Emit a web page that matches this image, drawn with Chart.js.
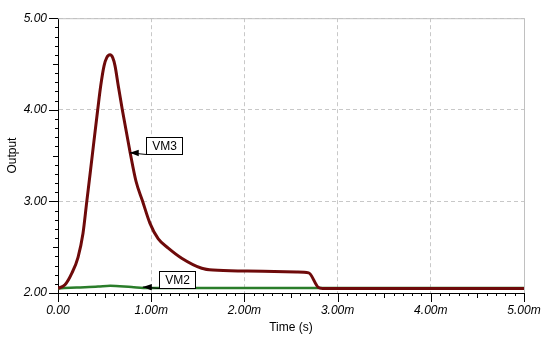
<!DOCTYPE html>
<html>
<head>
<meta charset="utf-8">
<script src="https://cdn.jsdelivr.net/npm/chart.js@4.4.1/dist/chart.umd.min.js"></script>
<style>
  body { margin: 0; background: #fff; }
  #wrap { width: 554px; height: 348px; }
</style>
</head>
<body>
<div id="wrap"><canvas id="chart" width="554" height="348"></canvas></div>
<script>
// time in ms, output in V
const vm3Time = [0.00, 0.075, 0.15, 0.215, 0.268, 0.309, 0.349, 0.386, 0.426, 0.458, 0.494, 0.523, 0.558,
                 0.587, 0.612, 0.647, 0.690, 0.773, 0.837, 0.905, 0.987, 1.076, 1.183, 1.327, 1.542,
                 1.663, 2.03, 2.56, 2.69, 2.795, 2.84, 5.00];
const vm3Volt = [2.05, 2.09, 2.22, 2.39, 2.65, 3.00, 3.34, 3.66, 4.00, 4.26, 4.48, 4.57, 4.60,
                 4.57, 4.48, 4.26, 4.00, 3.54, 3.22, 3.01, 2.76, 2.59, 2.49, 2.38, 2.27,
                 2.25, 2.24, 2.23, 2.22, 2.06, 2.05, 2.05];
const vm2Time = [0.00, 0.20, 0.43, 0.56, 0.79, 0.97, 2.00, 3.00, 5.00];
const vm2Volt = [2.05, 2.06, 2.07, 2.08, 2.065, 2.055, 2.055, 2.055, 2.055];

const xTicks = [0, 1, 2, 3, 4, 5];
const yTicks = [2, 3, 4, 5];

const markerNames = ['VM3', 'VM2'];
const markerTime = [0.77, 0.91];
const markerVolt = [3.53, 2.065];

Chart.defaults.font.family = '"Liberation Sans", Arial, sans-serif';
Chart.defaults.color = '#000';

const tickFont = { family: '"Liberation Sans", Arial, sans-serif', size: 12, style: 'italic' };

function pts(xs, ys) {
  return xs.map((x, i) => ({ x: x, y: ys[i] }));
}

// minor ticks, solid frame on top/right, boxed series labels
const decor = {
  id: 'decor',
  afterDraw(chart) {
    const ctx = chart.ctx;
    const area = chart.chartArea;
    const xs = chart.scales.x;
    const ys = chart.scales.y;
    ctx.save();
    ctx.strokeStyle = '#c0c0c0';
    ctx.lineWidth = 1;
    ctx.beginPath();
    ctx.moveTo(area.left, area.top + 0.5);
    ctx.lineTo(area.right + 0.5, area.top + 0.5);
    ctx.lineTo(area.right + 0.5, area.bottom);
    ctx.stroke();

    ctx.strokeStyle = '#000';
    ctx.beginPath();
    for (let i = 0; i <= 50; i++) {
      const v = xTicks[0] + i * 0.1;
      const px = Math.round(xs.getPixelForValue(v)) + 0.5;
      const len = i % 10 === 0 ? 9 : (i % 5 === 0 ? 5 : 3);
      ctx.moveTo(px, area.bottom);
      ctx.lineTo(px, area.bottom + len);
    }
    for (let i = 0; i <= 30; i++) {
      const v = yTicks[0] + i * 0.1;
      const py = Math.round(ys.getPixelForValue(v)) + 0.5;
      const len = i % 10 === 0 ? 9 : (i % 5 === 0 ? 5 : 3);
      ctx.moveTo(area.left, py);
      ctx.lineTo(area.left - len, py);
    }
    ctx.stroke();

    ctx.font = '12px "Liberation Sans", Arial, sans-serif';
    ctx.textAlign = 'center';
    ctx.textBaseline = 'middle';
    markerNames.forEach((name, i) => {
      const tx = xs.getPixelForValue(markerTime[i]);
      const ty = ys.getPixelForValue(markerVolt[i]);
      const bx = Math.round(tx + 16) + 0.5;
      const by = Math.round(ty + 1) + 0.5;
      const w = 36, h = 17;
      ctx.fillStyle = '#fff';
      ctx.fillRect(bx, by - h, w, h);
      ctx.strokeStyle = '#000';
      ctx.lineWidth = 1;
      ctx.strokeRect(bx, by - h, w, h);
      ctx.fillStyle = '#000';
      ctx.fillText(name, bx + w / 2, by - h / 2 + 0.5);
      ctx.beginPath();
      ctx.moveTo(bx, by);
      ctx.lineTo(tx, ty);
      ctx.stroke();
      ctx.beginPath();
      ctx.moveTo(tx, ty);
      ctx.lineTo(tx + 9, ty - 3);
      ctx.lineTo(tx + 9, ty + 3.5);
      ctx.closePath();
      ctx.fill();
    });
    ctx.restore();
  }
};

new Chart(document.getElementById('chart'), {
  type: 'line',
  data: {
    datasets: [
      {
        label: 'VM3',
        data: pts(vm3Time, vm3Volt),
        borderColor: '#6e0a0a',
        borderWidth: 3,
        pointRadius: 0,
        cubicInterpolationMode: 'monotone',
        fill: false
      },
      {
        label: 'VM2',
        data: pts(vm2Time, vm2Volt),
        borderColor: '#2a7d2a',
        borderWidth: 2.5,
        pointRadius: 0,
        cubicInterpolationMode: 'monotone',
        fill: false
      }
    ]
  },
  options: {
    responsive: false,
    animation: false,
    layout: { padding: { left: 0, right: 30, top: 17, bottom: 0 } },
    plugins: { legend: { display: false }, tooltip: { enabled: false } },
    scales: {
      x: {
        type: 'linear',
        min: xTicks[0],
        max: xTicks[xTicks.length - 1],
        afterFit: s => { s.height = 55; },
        afterBuildTicks: s => { s.ticks = xTicks.map(v => ({ value: v })); },
        ticks: {
          font: tickFont,
          padding: 10,
          maxRotation: 0,
          callback: v => v === 0 ? '0.00' : v.toFixed(2) + 'm'
        },
        grid: { color: '#c8c8c8', drawTicks: false },
        border: { color: '#000', width: 1, dash: [4, 3] },
        title: { display: true, text: 'Time (s)', font: { size: 12 }, padding: { top: 0, bottom: 13 } }
      },
      y: {
        type: 'linear',
        min: yTicks[0],
        max: yTicks[yTicks.length - 1],
        afterFit: s => { s.width = 58; },
        afterBuildTicks: s => { s.ticks = yTicks.map(v => ({ value: v })); },
        ticks: {
          font: tickFont,
          padding: 11,
          callback: v => v.toFixed(2)
        },
        grid: { color: '#c8c8c8', drawTicks: false },
        border: { color: '#000', width: 1, dash: [4, 3] },
        title: { display: true, text: 'Output', font: { size: 12 }, padding: { top: 5, bottom: 0 } }
      }
    }
  },
  plugins: [decor]
});
</script>
</body>
</html>
